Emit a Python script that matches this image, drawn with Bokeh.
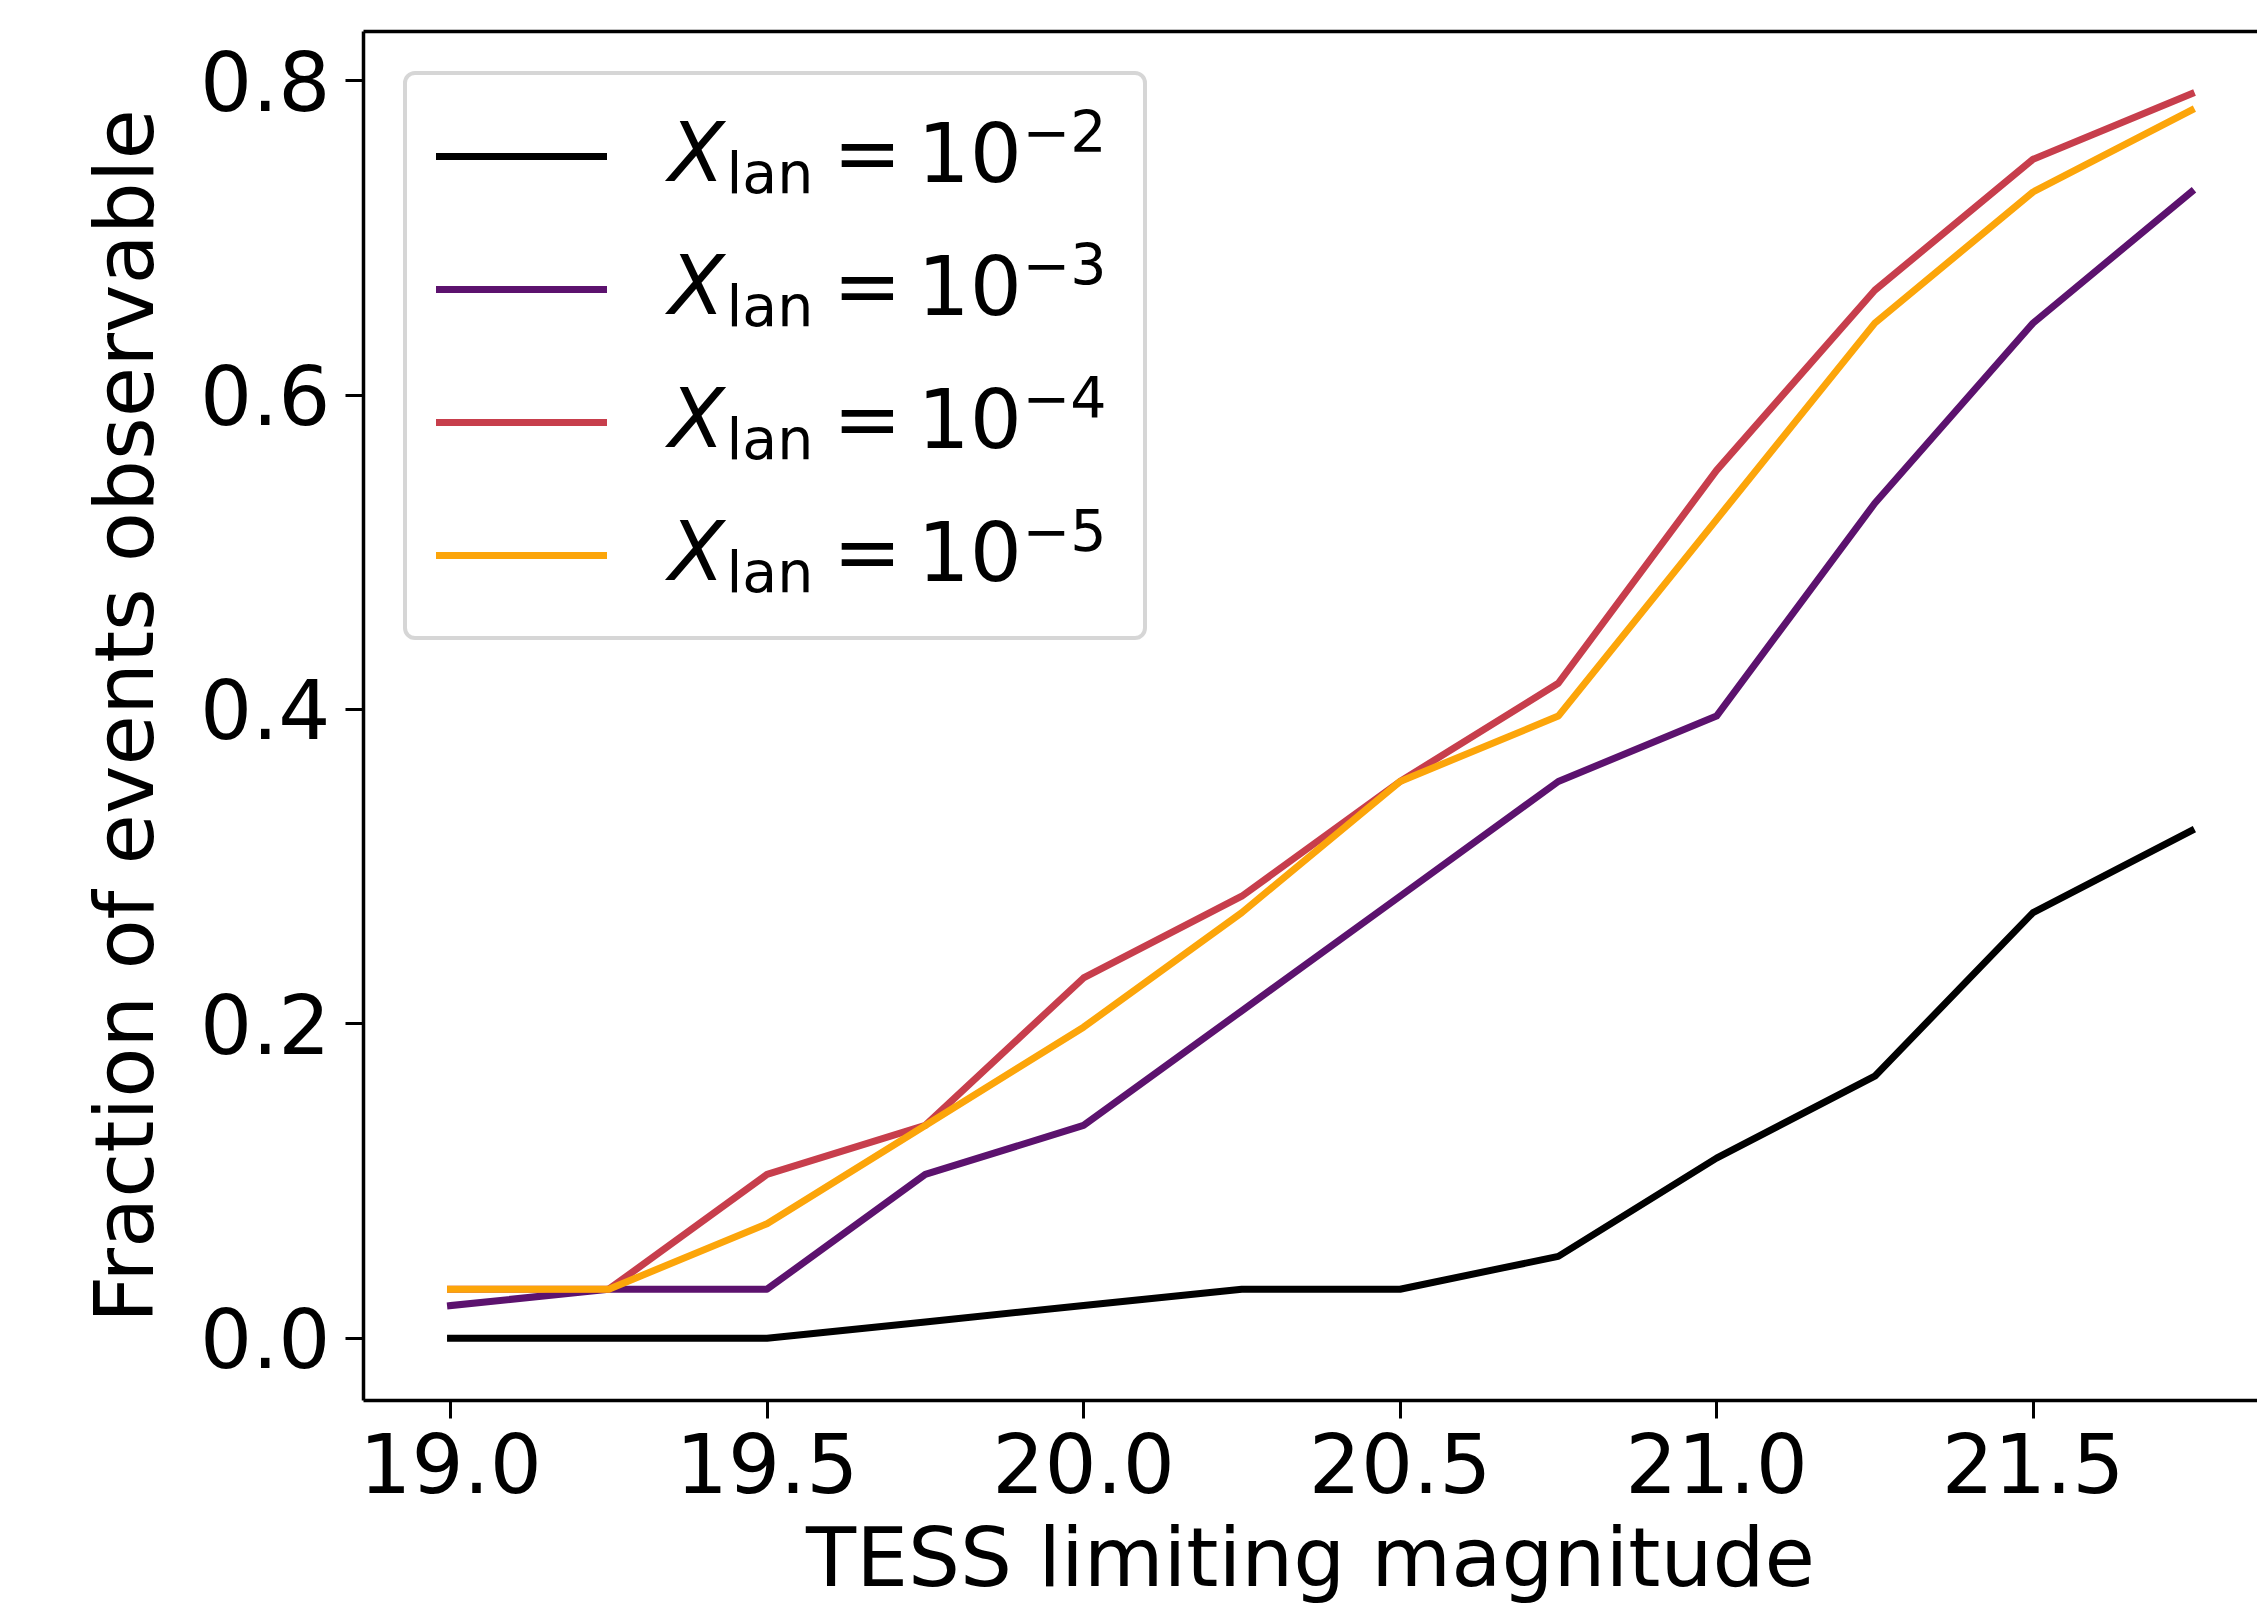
from bokeh.plotting import figure
from bokeh.models import (Range1d, LinearAxis, FixedTicker, PrintfTickFormatter,
                          Legend, LegendItem, Label)
from bokeh.core.properties import value
from bokeh.embed import file_html
from bokeh.resources import INLINE

# ---------------- data ----------------
x_mag = [19.0, 19.25, 19.5, 19.75, 20.0, 20.25, 20.5, 20.75, 21.0, 21.25, 21.5, 21.75]
frac_1e2 = [0.0, 0.0, 0.0, 0.0104, 0.0208, 0.0312, 0.0312, 0.0521, 0.1146, 0.1667, 0.2708, 0.3229]
frac_1e3 = [0.0208, 0.0312, 0.0312, 0.1042, 0.1354, 0.2083, 0.2812, 0.3542, 0.3958, 0.5312, 0.6458, 0.7292]
frac_1e4 = [0.0312, 0.0312, 0.1042, 0.1354, 0.2292, 0.2812, 0.3542, 0.4167, 0.5521, 0.6667, 0.75, 0.7917]
frac_1e5 = [0.0312, 0.0312, 0.0729, 0.1354, 0.1979, 0.2708, 0.3542, 0.3958, 0.5208, 0.6458, 0.7292, 0.7812]
series = [frac_1e2, frac_1e3, frac_1e4, frac_1e5]
colors = ["#000000", "#5c126e", "#c73e4c", "#fca50a"]
legend_exponents = ["\u22122", "\u22123", "\u22124", "\u22125"]
x_ticks = [19.0, 19.5, 20.0, 20.5, 21.0, 21.5]
y_ticks = [0.0, 0.2, 0.4, 0.6, 0.8]
x_label = "TESS limiting magnitude"
y_label = "Fraction of events observable"

# ---------------- layout ----------------
W, H = 2257, 1610
FL, FT, FB = 363, 31, 1400          # frame left / top / bottom in canvas px
FW, FH = W - FL, FB - FT
PX_PER_X = 633.0
X0 = 18.8625
X1 = X0 + FW / PX_PER_X
Y0, Y1 = -0.0396, 0.8313
FONT = "DejaVu Sans"
FS_PX = 82
FS_SMALL_PX = 57
FS = "%dpx" % FS_PX
BASE_CORR = 0.346   # shift applied so that the glyph baseline lands on the wanted pixel row


def px2x(px):
    return X0 + (px - FL) * (X1 - X0) / FW


def px2y(py):
    return Y1 - (py - FT) * (Y1 - Y0) / FH


p = figure(width=W, height=H, x_range=Range1d(X0, X1), y_range=Range1d(Y0, Y1),
           output_backend="svg", toolbar_location=None,
           min_border_left=FL, min_border_right=0, min_border_top=FT,
           min_border_bottom=H - FB)
p.grid.visible = False
p.outline_line_color = None
p.background_fill_color = "white"
p.border_fill_color = "white"

for ax in (p.xaxis[0], p.yaxis[0]):
    ax.axis_line_width = 3.5
    ax.axis_line_color = "black"
    ax.major_tick_out = 18
    ax.major_tick_in = 0
    ax.major_tick_line_width = 3
    ax.minor_tick_line_color = None
    ax.major_label_text_font = FONT
    ax.major_label_text_font_size = FS
    ax.major_label_text_color = "black"
    ax.formatter = PrintfTickFormatter(format="%.1f")
    ax.axis_label_text_font = FONT
    ax.axis_label_text_font_size = FS
    ax.axis_label_text_font_style = "normal"
    ax.axis_label_text_color = "black"

p.xaxis[0].ticker = FixedTicker(ticks=x_ticks)
p.yaxis[0].ticker = FixedTicker(ticks=y_ticks)
p.xaxis[0].major_label_standoff = 14
p.xaxis[0].axis_label = x_label
p.xaxis[0].axis_label_standoff = 14
p.xaxis[0].axis_label_text_line_height = 1.0
p.yaxis[0].major_label_standoff = 15
p.yaxis[0].axis_label = y_label
p.yaxis[0].axis_label_standoff = 25

top = LinearAxis(ticker=FixedTicker(ticks=[]), axis_line_width=3.5, axis_line_color="black",
                 major_tick_out=0, major_tick_in=0, minor_tick_out=0, minor_tick_in=0,
                 major_label_standoff=0, major_label_text_font_size="0px")
p.add_layout(top, "above")

renderers = []
for ys, col in zip(series, colors):
    r = p.line(x_mag, ys, line_color=col, line_width=7, line_join="round", line_cap="square")
    renderers.append(r)

legend = Legend(items=[LegendItem(label=value(""), renderers=[r]) for r in renderers],
                location="top_left", margin=40, padding=29, spacing=29,
                glyph_height=104, glyph_width=171, label_standoff=63,
                label_width=444, label_height=0, label_text_font_size="1px",
                border_line_color="#cccccc", border_line_width=4, border_line_alpha=0.8,
                background_fill_color=None)
if "border_radius" in Legend.properties():
    legend.border_radius = 12
p.add_layout(legend)

# legend labels (math-like text built from pieces)
for i, ex in enumerate(legend_exponents):
    base = 71 + 29 + 52 + i * 133 + 28
    pieces = [
        ("X", 668, base, FS_PX, "italic"),
        ("lan", 726, base + 12.5, FS_SMALL_PX, "normal"),
        ("=", 832.5, base, FS_PX, "normal"),
        ("10", 917, base, FS_PX, "normal"),
        (ex, 1022, base - 30, FS_SMALL_PX, "normal"),
    ]
    for txt, px, py, fs, st in pieces:
        p.add_layout(Label(x=px2x(px), y=px2y(py - BASE_CORR * fs), text=txt, text_font=FONT,
                           text_font_size="%dpx" % fs, text_font_style=st, text_color="black",
                           text_align="left", text_baseline="alphabetic", level="overlay"))

open("out.html", "w").write(file_html(p, INLINE))
